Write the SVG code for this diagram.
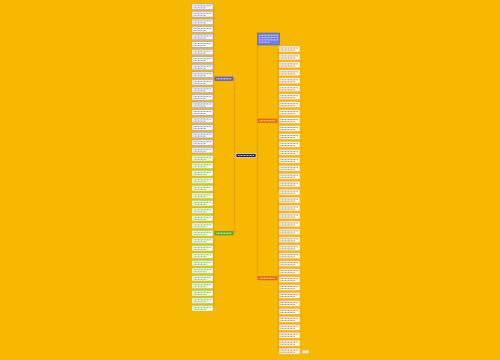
<svg xmlns="http://www.w3.org/2000/svg" xmlns:xlink="http://www.w3.org/1999/xlink" width="500" height="360" viewBox="0 0 500 360">
<style>
.bg{fill:#F6B800}
.ln{fill:none;stroke:#E49600;stroke-width:0.8}
.lb{fill:#FBFAF4;stroke:#8E96E8;stroke-width:0.5}
.lg{fill:#FBFCEF;stroke:#92D35A;stroke-width:0.5}
.rb{fill:#FFF9E6;stroke:#F0A050;stroke-width:0.5}
.tb{stroke:#6070D0;stroke-width:0.7;stroke-dasharray:1.1 0.4}
.tg{stroke:#4E9C40;stroke-width:0.7;stroke-dasharray:1.1 0.4}
.tr{stroke:#8A6A40;stroke-width:0.7;stroke-dasharray:1.1 0.4}
.tw{stroke:#FFFFFF;stroke-width:0.7;stroke-dasharray:1.1 0.4}
</style>
<defs>
<g id="lbx"><rect class="lb" x="0" y="0" width="21" height="5.5"/><line class="tb" x1="1.5" y1="1.8" x2="19.5" y2="1.8"/><line class="tb" x1="1.5" y1="3.8" x2="14" y2="3.8"/></g>
<g id="lgx"><rect class="lg" x="0" y="0" width="21" height="5.5"/><line class="tg" x1="1.5" y1="1.8" x2="19.5" y2="1.8"/><line class="tg" x1="1.5" y1="3.8" x2="15" y2="3.8"/></g>
<g id="rbx"><rect class="rb" x="0" y="0" width="21" height="6"/><line class="tr" x1="1.5" y1="2" x2="19.5" y2="2"/><line class="tr" x1="1.5" y1="4.1" x2="16" y2="4.1"/></g>
</defs>
<rect class="bg" x="0" y="0" width="500" height="360"/>
<g id="connectors">
<path class="ln" d="M236 155.5 H234.6 V78.75 H233 M234.6 155.5 V233.25 H233"/>
<path class="ln" d="M256 155.5 H257.4 V39 M257.4 155.5 V278.25 H258 M257.4 120.75 H258"/>
<path class="ln" d="M215 78.75 H213.8 M213.8 6.75 V150.2"/>
<path class="ln" d="M215 233.25 H213.8 M213.8 158.25 V308.25"/>
<path class="ln" d="M277 120.75 H278.4 M278.4 49 V192.1"/>
<path class="ln" d="M277 278.25 H278.4 M278.4 200 V351.1"/>
</g>
<g id="center"><rect x="236" y="153.5" width="20" height="4" fill="#26265E" stroke="#FFFFFF" stroke-width="0.6"/><line class="tw" x1="238" y1="155.5" x2="254" y2="155.5"/></g>
<g id="left-node-1"><rect x="215" y="77" width="18" height="3.5" fill="#6C6CD8" stroke="#3E3EA8" stroke-width="0.5"/><line class="tw" x1="216.5" y1="78.75" x2="231.5" y2="78.75"/></g>
<g id="left-node-2"><rect x="215" y="231.5" width="18" height="3.5" fill="#5CB83A" stroke="#3A8A22" stroke-width="0.5"/><line class="tw" x1="216.5" y1="233.25" x2="231.5" y2="233.25"/></g>
<g id="right-node-blue"><rect x="257.5" y="33" width="22" height="12" fill="#6A7CE8" stroke="#4A5AC8" stroke-width="0.5"/><line class="tw" x1="259" y1="35.3" x2="278" y2="35.3"/><line class="tw" x1="259" y1="37.6" x2="278" y2="37.6"/><line class="tw" x1="259" y1="39.9" x2="278" y2="39.9"/><line class="tw" x1="259" y1="42.2" x2="270" y2="42.2"/></g>
<g id="right-node-1"><rect x="258" y="119" width="19" height="3.5" fill="#EE6A14" stroke="#D85A08" stroke-width="0.5"/><line class="tw" x1="259.5" y1="120.75" x2="275.5" y2="120.75"/></g>
<g id="right-node-2"><rect x="258" y="276.5" width="19" height="3.5" fill="#EE6A14" stroke="#D85A08" stroke-width="0.5"/><line class="tw" x1="259.5" y1="278.25" x2="275.5" y2="278.25"/></g>
<g id="left-leaves-1">
<g id="lb1"><use xlink:href="#lbx" x="192" y="4"/></g>
<g id="lb2"><use xlink:href="#lbx" x="192" y="11.55"/></g>
<g id="lb3"><use xlink:href="#lbx" x="192" y="19.1"/></g>
<g id="lb4"><use xlink:href="#lbx" x="192" y="26.65"/></g>
<g id="lb5"><use xlink:href="#lbx" x="192" y="34.2"/></g>
<g id="lb6"><use xlink:href="#lbx" x="192" y="41.75"/></g>
<g id="lb7"><use xlink:href="#lbx" x="192" y="49.3"/></g>
<g id="lb8"><use xlink:href="#lbx" x="192" y="56.85"/></g>
<g id="lb9"><use xlink:href="#lbx" x="192" y="64.4"/></g>
<g id="lb10"><use xlink:href="#lbx" x="192" y="71.95"/></g>
<g id="lb11"><use xlink:href="#lbx" x="192" y="79.5"/></g>
<g id="lb12"><use xlink:href="#lbx" x="192" y="87.05"/></g>
<g id="lb13"><use xlink:href="#lbx" x="192" y="94.6"/></g>
<g id="lb14"><use xlink:href="#lbx" x="192" y="102.15"/></g>
<g id="lb15"><use xlink:href="#lbx" x="192" y="109.7"/></g>
<g id="lb16"><use xlink:href="#lbx" x="192" y="117.25"/></g>
<g id="lb17"><use xlink:href="#lbx" x="192" y="124.8"/></g>
<g id="lb18"><use xlink:href="#lbx" x="192" y="132.35"/></g>
<g id="lb19"><use xlink:href="#lbx" x="192" y="139.9"/></g>
<g id="lb20"><use xlink:href="#lbx" x="192" y="147.45"/></g>
</g>
<g id="left-leaves-2">
<g id="lg1"><use xlink:href="#lgx" x="192" y="155.5"/></g>
<g id="lg2"><use xlink:href="#lgx" x="192" y="163"/></g>
<g id="lg3"><use xlink:href="#lgx" x="192" y="170.5"/></g>
<g id="lg4"><use xlink:href="#lgx" x="192" y="178"/></g>
<g id="lg5"><use xlink:href="#lgx" x="192" y="185.5"/></g>
<g id="lg6"><use xlink:href="#lgx" x="192" y="193"/></g>
<g id="lg7"><use xlink:href="#lgx" x="192" y="200.5"/></g>
<g id="lg8"><use xlink:href="#lgx" x="192" y="208"/></g>
<g id="lg9"><use xlink:href="#lgx" x="192" y="215.5"/></g>
<g id="lg10"><use xlink:href="#lgx" x="192" y="223"/></g>
<g id="lg11"><use xlink:href="#lgx" x="192" y="230.5"/></g>
<g id="lg12"><use xlink:href="#lgx" x="192" y="238"/></g>
<g id="lg13"><use xlink:href="#lgx" x="192" y="245.5"/></g>
<g id="lg14"><use xlink:href="#lgx" x="192" y="253"/></g>
<g id="lg15"><use xlink:href="#lgx" x="192" y="260.5"/></g>
<g id="lg16"><use xlink:href="#lgx" x="192" y="268"/></g>
<g id="lg17"><use xlink:href="#lgx" x="192" y="275.5"/></g>
<g id="lg18"><use xlink:href="#lgx" x="192" y="283"/></g>
<g id="lg19"><use xlink:href="#lgx" x="192" y="290.5"/></g>
<g id="lg20"><use xlink:href="#lgx" x="192" y="298"/></g>
<g id="lg21"><use xlink:href="#lgx" x="192" y="305.5"/></g>
</g>
<g id="right-leaves-1">
<g id="ra1"><use xlink:href="#rbx" x="279" y="46"/></g>
<g id="ra2"><use xlink:href="#rbx" x="279" y="53.95"/></g>
<g id="ra3"><use xlink:href="#rbx" x="279" y="61.9"/></g>
<g id="ra4"><use xlink:href="#rbx" x="279" y="69.85"/></g>
<g id="ra5"><use xlink:href="#rbx" x="279" y="77.8"/></g>
<g id="ra6"><use xlink:href="#rbx" x="279" y="85.75"/></g>
<g id="ra7"><use xlink:href="#rbx" x="279" y="93.7"/></g>
<g id="ra8"><use xlink:href="#rbx" x="279" y="101.65"/></g>
<g id="ra9"><use xlink:href="#rbx" x="279" y="109.6"/></g>
<g id="ra10"><use xlink:href="#rbx" x="279" y="117.55"/></g>
<g id="ra11"><use xlink:href="#rbx" x="279" y="125.5"/></g>
<g id="ra12"><use xlink:href="#rbx" x="279" y="133.45"/></g>
<g id="ra13"><use xlink:href="#rbx" x="279" y="141.4"/></g>
<g id="ra14"><use xlink:href="#rbx" x="279" y="149.35"/></g>
<g id="ra15"><use xlink:href="#rbx" x="279" y="157.3"/></g>
<g id="ra16"><use xlink:href="#rbx" x="279" y="165.25"/></g>
<g id="ra17"><use xlink:href="#rbx" x="279" y="173.2"/></g>
<g id="ra18"><use xlink:href="#rbx" x="279" y="181.15"/></g>
<g id="ra19"><use xlink:href="#rbx" x="279" y="189.1"/></g>
</g>
<g id="right-leaves-2">
<g id="rb1"><use xlink:href="#rbx" x="279" y="197.05"/></g>
<g id="rb2"><use xlink:href="#rbx" x="279" y="205"/></g>
<g id="rb3"><use xlink:href="#rbx" x="279" y="212.95"/></g>
<g id="rb4"><use xlink:href="#rbx" x="279" y="220.9"/></g>
<g id="rb5"><use xlink:href="#rbx" x="279" y="228.85"/></g>
<g id="rb6"><use xlink:href="#rbx" x="279" y="236.8"/></g>
<g id="rb7"><use xlink:href="#rbx" x="279" y="244.75"/></g>
<g id="rb8"><use xlink:href="#rbx" x="279" y="252.7"/></g>
<g id="rb9"><use xlink:href="#rbx" x="279" y="260.65"/></g>
<g id="rb10"><use xlink:href="#rbx" x="279" y="268.6"/></g>
<g id="rb11"><use xlink:href="#rbx" x="279" y="276.55"/></g>
<g id="rb12"><use xlink:href="#rbx" x="279" y="284.5"/></g>
<g id="rb13"><use xlink:href="#rbx" x="279" y="292.45"/></g>
<g id="rb14"><use xlink:href="#rbx" x="279" y="300.4"/></g>
<g id="rb15"><use xlink:href="#rbx" x="279" y="308.35"/></g>
<g id="rb16"><use xlink:href="#rbx" x="279" y="316.3"/></g>
<g id="rb17"><use xlink:href="#rbx" x="279" y="324.25"/></g>
<g id="rb18"><use xlink:href="#rbx" x="279" y="332.2"/></g>
<g id="rb19"><use xlink:href="#rbx" x="279" y="340.15"/></g>
<g id="rb20"><use xlink:href="#rbx" x="279" y="348.1"/></g>
</g>
<g id="tag"><rect x="302" y="350" width="7" height="3.5" fill="#FFF2C8" stroke="#F0A050" stroke-width="0.4"/></g>
</svg>
